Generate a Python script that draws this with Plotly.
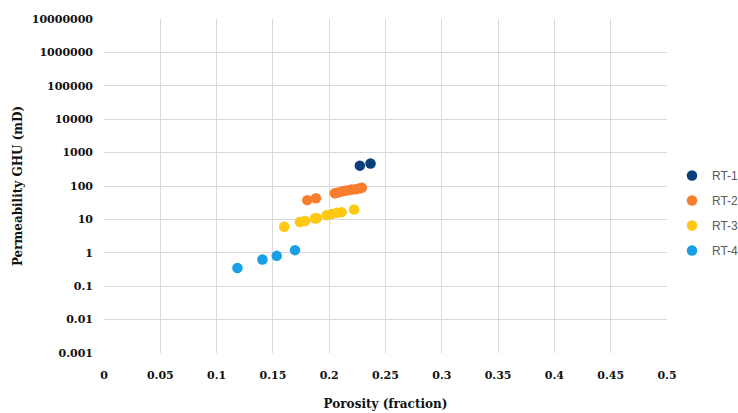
import plotly.graph_objects as go

# Porosity (fraction) and GHU permeability (mD) by rock type
rt1_phi = [0.2272, 0.2367]
rt1_k = [407, 474]

rt2_phi = [0.1805, 0.1882, 0.2050, 0.2077, 0.2112, 0.2139, 0.2170, 0.2201, 0.2237, 0.2272, 0.2290]
rt2_k = [37.7, 43, 61, 64, 68, 72, 74, 78, 80, 86, 89]

rt3_phi = [0.1601, 0.1740, 0.1785, 0.1873, 0.1890, 0.1977, 0.2021, 0.2066, 0.2110, 0.2221]
rt3_k = [6.0, 8.4, 9.0, 10.7, 10.9, 13.4, 14.4, 15.7, 16.5, 19.9]

rt4_phi = [0.1185, 0.1407, 0.1534, 0.1696]
rt4_k = [0.35, 0.63, 0.81, 1.2]

series_names = ["RT-1", "RT-2", "RT-3", "RT-4"]
series_colors = ["#0B3F7C", "#F87D2C", "#FFC812", "#17A0E6"]

y_tickvals = [0.001, 0.01, 0.1, 1, 10, 100, 1000, 10000, 100000, 1000000, 10000000]
y_ticktext = ["0.001", "0.01", "0.1", "1", "10", "100", "1000", "10000", "100000", "1000000", "10000000"]
x_tickvals = [0, 0.05, 0.1, 0.15, 0.2, 0.25, 0.3, 0.35, 0.4, 0.45, 0.5]
x_ticktext = ["0", "0.05", "0.1", "0.15", "0.2", "0.25", "0.3", "0.35", "0.4", "0.45", "0.5"]

data = [(rt1_phi, rt1_k), (rt2_phi, rt2_k), (rt3_phi, rt3_k), (rt4_phi, rt4_k)]

fig = go.Figure()
for (phi, k), name, color in zip(data, series_names, series_colors):
    fig.add_trace(go.Scatter(
        x=phi, y=k, mode="markers", name=name, legendgroup=name,
        marker=dict(size=10.5, color=color, line=dict(width=0)),
    ))

tick_font = dict(family="DejaVu Serif", size=11, color="#111111", weight="bold")
title_font = dict(family="DejaVu Serif", size=12, color="#111111", weight="bold")

fig.update_layout(
    width=738, height=413,
    margin=dict(l=104, r=71, t=19, b=60, autoexpand=False),
    paper_bgcolor="white", plot_bgcolor="white",
    showlegend=True,
    legend=dict(
        xref="container", yref="container",
        x=672 / 738, y=1 - 161 / 413, xanchor="left", yanchor="top",
        font=dict(family="Liberation Sans", size=12, color="#595959"),
        tracegroupgap=6, itemwidth=30,
        bgcolor="rgba(0,0,0,0)",
    ),
    xaxis=dict(
        range=[0, 0.5], tickvals=x_tickvals, ticktext=x_ticktext,
        showgrid=True, gridcolor="#D9D9D9", gridwidth=1.3,
        zeroline=False, showline=False, ticks="",
        tickfont=tick_font, ticklabelstandoff=14,
        title=dict(text="Porosity (fraction)", font=title_font, standoff=18),
    ),
    yaxis=dict(
        type="log", range=[-3, 7], tickvals=y_tickvals, ticktext=y_ticktext,
        showgrid=True, gridcolor="#D9D9D9", gridwidth=1.3,
        zeroline=False, showline=False, ticks="",
        tickfont=tick_font, ticklabelstandoff=10,
        title=dict(text="Permeability GHU (mD)", font=title_font, standoff=6),
    ),
)

fig.write_html("out.html")
